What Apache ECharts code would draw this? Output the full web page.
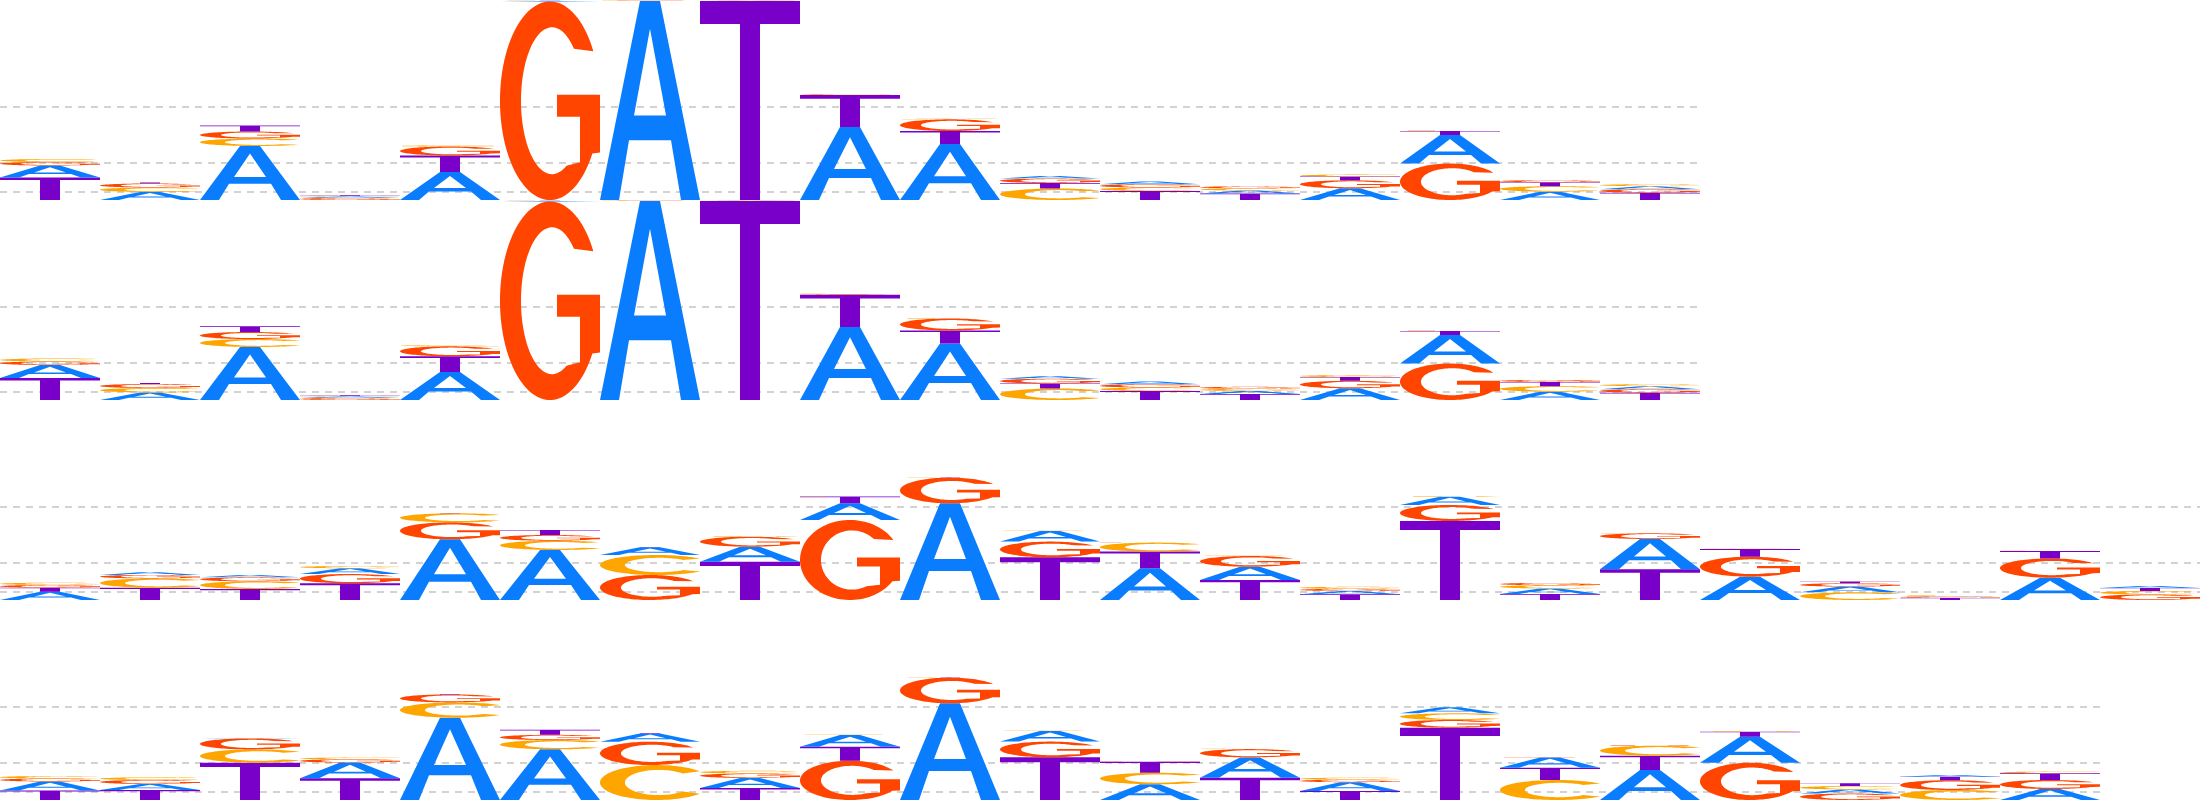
<!DOCTYPE html>
<html>
<head>
<meta charset="utf-8">
<script src="https://cdn.jsdelivr.net/npm/echarts@6/dist/echarts.min.js"></script>
<style>
  html, body { margin: 0; padding: 0; background: #ffffff; }
  #chart { width: 2200px; height: 800px; }
</style>
</head>
<body>
<div id="chart"></div>
<script>
// ---------------- data (heights in bits) ----------------
const letters = ['A', 'C', 'G', 'T'];
const letterColors = ['#0a7dff', '#ffa500', '#ff4500', '#7800c8'];
const guideLines = [0.083, 0.373, 0.933];
const yMax = 2;

// Row 1 (17 positions)
const row1A = [0.12, 0.08, 0.54, 0.015, 0.28, 0.004, 1.99, 0.002, 0.73, 0.56, 0.025, 0.027, 0.03, 0.117, 0.285, 0.083, 0.03];
const row1C = [0.03, 0.045, 0.075, 0.008, 0.01, 0.003, 0.002, 0.002, 0.004, 0.005, 0.115, 0.035, 0.022, 0.02, 0.005, 0.055, 0.02];
const row1G = [0.035, 0.04, 0.07, 0.02, 0.09, 1.985, 0.002, 0.002, 0.006, 0.117, 0.045, 0.033, 0.02, 0.08, 0.365, 0.02, 0.035];
const row1T = [0.225, 0.01, 0.06, 0.006, 0.165, 0.003, 0.002, 1.99, 0.32, 0.13, 0.055, 0.09, 0.065, 0.037, 0.04, 0.04, 0.073];

// Row 2 (17 positions)
const row2A = [0.13, 0.075, 0.53, 0.015, 0.28, 0.004, 1.99, 0.002, 0.73, 0.565, 0.025, 0.027, 0.03, 0.117, 0.285, 0.083, 0.03];
const row2C = [0.03, 0.045, 0.08, 0.008, 0.01, 0.003, 0.002, 0.002, 0.004, 0.005, 0.115, 0.035, 0.022, 0.02, 0.005, 0.055, 0.02];
const row2G = [0.035, 0.04, 0.07, 0.02, 0.1, 1.985, 0.002, 0.002, 0.006, 0.12, 0.048, 0.033, 0.02, 0.075, 0.365, 0.02, 0.035];
const row2T = [0.22, 0.01, 0.057, 0.006, 0.157, 0.003, 0.002, 1.99, 0.323, 0.13, 0.05, 0.09, 0.06, 0.037, 0.04, 0.043, 0.073];

// Row 3 (22 positions)
const row3A = [0.083, 0.027, 0.023, 0.057, 0.607, 0.50, 0.077, 0.15, 0.167, 0.967, 0.107, 0.317, 0.133, 0.033, 0.083, 0.055, 0.303, 0.233, 0.057, 0.005, 0.223, 0.02];
const row3C = [0.023, 0.093, 0.077, 0.023, 0.09, 0.093, 0.20, 0.004, 0.004, 0.003, 0.004, 0.09, 0.004, 0.02, 0.004, 0.033, 0.004, 0.004, 0.077, 0.005, 0.004, 0.035];
const row3G = [0.027, 0.035, 0.04, 0.093, 0.17, 0.057, 0.25, 0.10, 0.80, 0.257, 0.157, 0.004, 0.107, 0.022, 0.16, 0.023, 0.057, 0.20, 0.033, 0.015, 0.193, 0.055];
const row3T = [0.04, 0.123, 0.11, 0.167, 0.004, 0.05, 0.004, 0.383, 0.067, 0.003, 0.427, 0.167, 0.20, 0.057, 0.79, 0.06, 0.307, 0.077, 0.017, 0.02, 0.073, 0.03];

// Row 4 (21 positions)
const row4A = [0.09, 0.06, 0.004, 0.157, 0.823, 0.507, 0.083, 0.10, 0.117, 0.967, 0.107, 0.157, 0.203, 0.088, 0.06, 0.103, 0.30, 0.26, 0.04, 0.017, 0.11];
const row4C = [0.025, 0.027, 0.133, 0.017, 0.153, 0.093, 0.35, 0.027, 0.004, 0.003, 0.004, 0.115, 0.004, 0.02, 0.067, 0.20, 0.10, 0.004, 0.035, 0.10, 0.017];
const row4G = [0.03, 0.04, 0.11, 0.033, 0.08, 0.052, 0.233, 0.045, 0.393, 0.257, 0.157, 0.004, 0.083, 0.025, 0.077, 0.004, 0.004, 0.373, 0.065, 0.098, 0.09];
const row4T = [0.095, 0.10, 0.373, 0.217, 0.004, 0.05, 0.004, 0.12, 0.14, 0.003, 0.427, 0.11, 0.223, 0.09, 0.723, 0.123, 0.143, 0.05, 0.027, 0.035, 0.067];

const rows = [
  [row1A, row1C, row1G, row1T],
  [row2A, row2C, row2G, row2T],
  [row3A, row3C, row3G, row3T],
  [row4A, row4C, row4G, row4T]
];

// ---------------- glyph outlines (unit box 100 x 100) ----------------
function arcPts(cx, cy, rx, ry, a0, a1, n) {
  const pts = [];
  for (let i = 0; i <= n; i++) {
    const a = (a0 + (a1 - a0) * i / n) * Math.PI / 180;
    pts.push([cx + rx * Math.cos(a), cy - ry * Math.sin(a)]);
  }
  return pts;
}
function toPath(contours) {
  return contours.map(c => 'M' + c.map(p => p[0].toFixed(2) + ',' + p[1].toFixed(2)).join('L') + 'Z').join('');
}
const glyphA = toPath([
  [[0, 100], [40, 0], [60, 0], [100, 100], [81, 100], [71, 70], [29, 70], [19, 100]],
  [[34, 57.5], [66, 57.5], [50, 14]]
]);
const glyphC = toPath([
  arcPts(50, 50, 50, 50, 40, 320, 80).concat(arcPts(52, 50, 30, 36, 315, 45, 80))
]);
const glyphG = toPath([
  arcPts(50, 50, 50, 50, 30, 328, 90)
    .concat([[100, 76], [100, 47], [57, 47], [57, 58], [80, 58], [80, 81]])
    .concat(arcPts(52, 50, 31, 37, 298, 45, 80))
]);
const glyphT = toPath([
  [[0, 0], [100, 0], [100, 11.5], [60, 11.5], [60, 100], [40, 100], [40, 11.5], [0, 11.5]]
]);
const glyphs = [glyphA, glyphC, glyphG, glyphT];

// ---------------- build option ----------------
const rowHeight = 200;
const colWidth = 100;
const grids = [], xAxes = [], yAxes = [], series = [];

rows.forEach((r, ri) => {
  const n = r[0].length;
  grids.push({ left: 0, top: ri * rowHeight, width: n * colWidth, height: rowHeight, containLabel: false });
  xAxes.push({
    type: 'category', gridIndex: ri, show: false,
    data: Array.from({ length: n }, (_, i) => String(i + 1)),
    boundaryGap: true
  });
  yAxes.push({ type: 'value', gridIndex: ri, show: false, min: 0, max: yMax, splitLine: { show: false } });

  const data = [];
  for (let c = 0; c < n; c++) {
    const items = [0, 1, 2, 3].map(L => ({ L, h: r[L][c] }));
    items.sort((a, b) => b.h - a.h);
    let base = 0;
    items.forEach(it => {
      data.push([c, base, base + it.h, it.L]);
      base += it.h;
    });
  }

  // guide lines (behind letters)
  series.push({
    type: 'line', xAxisIndex: ri, yAxisIndex: ri, data: [], silent: true,
    z: 1,
    markLine: {
      silent: true, symbol: 'none', animation: false,
      label: { show: false },
      lineStyle: { type: [7, 6], color: '#c4c4c4', width: 1.5 },
      data: guideLines.map(v => ({ yAxis: v }))
    }
  });

  series.push({
    type: 'custom', xAxisIndex: ri, yAxisIndex: ri, z: 10, silent: true,
    encode: { x: 0, y: [1, 2] },
    data: data,
    renderItem: function (params, api) {
      const c = api.value(0), y0 = api.value(1), y1 = api.value(2), L = api.value(3);
      const pb = api.coord([c, y0]);
      const pt = api.coord([c, y1]);
      const w = api.size([1, 0])[0];
      const h = pb[1] - pt[1];
      if (h < 0.05) return null;
      return {
        type: 'path',
        shape: { pathData: glyphs[L], x: pb[0] - w / 2, y: pt[1], width: w, height: h, layout: 'cover' },
        style: { fill: letterColors[L] }
      };
    }
  });
});

const chart = echarts.init(document.getElementById('chart'), null, { renderer: 'canvas' });
chart.setOption({
  animation: false,
  backgroundColor: '#ffffff',
  grid: grids,
  xAxis: xAxes,
  yAxis: yAxes,
  series: series
});
</script>
</body>
</html>
